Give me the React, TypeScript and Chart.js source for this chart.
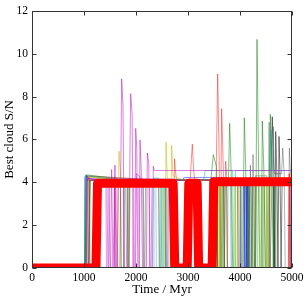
import React, { useEffect, useRef } from 'react';
import { Chart, registerables } from 'chart.js';
Chart.register(...registerables);

const xTickValues = [0, 1000, 2000, 3000, 4000, 5000];
const yTickValues = [0, 2, 4, 6, 8, 10, 12];
const xTitle = 'Time / Myr';
const yTitle = 'Best cloud S/N';

// thick "best" track
const bestT = [0, 1230, 1260, 2715, 2745, 2985, 3015, 3175, 3205, 3465, 3495, 5000];
const bestV = [0, 0, 3.95, 3.95, 0, 0, 3.95, 3.95, 0, 0, 4.03, 4.03];

// thin tracks
const magT = [0, 1040, 1060, 1100, 1480, 1500, 1560, 1596, 1615, 1690, 1724, 1750, 1775, 1860, 1897, 1925, 1950, 1975, 1994, 2015, 2035, 2060, 2077, 2100, 2125, 2200, 2218, 2245, 2270, 2315, 2333, 2350, 5000];
const magV = [0, 0, 4.3, 4.1, 4.1, 0, 0, 4.8, 0, 0, 8.83, 7.6, 0, 0, 8.14, 7.2, 0, 0, 6.52, 5.6, 0, 0, 5.98, 4.6, 0, 0, 5.37, 4.9, 0, 0, 4.75, 4.55, 4.55];

const mag2T = [0, 1050, 1075, 1300, 1440, 1460, 1510, 1532, 1555, 1640, 1660, 1800, 1820, 1990, 2010, 2140, 2160, 2290, 2310, 5000];
const mag2V = [0, 0, 4.2, 4.1, 4.1, 0, 0, 4.6, 0, 0, 4.1, 4.1, 0, 0, 4.4, 4.1, 0, 0, 4.1, 4.1];

const mag3T = [0, 1045, 1065, 1420, 1432, 1470, 1482, 1580, 1592, 1620, 1632, 1760, 1772, 1940, 1952, 2050, 2062, 2250, 2262, 2290, 2302, 5000];
const mag3V = [0, 0, 4.2, 4.1, 0, 0, 4.1, 4.1, 0, 0, 4.1, 4.1, 0, 0, 4.1, 4.1, 0, 0, 4.1, 4.1, 4.1, 4.1];

const yelT = [0, 1060, 1085, 1600, 1640, 1673, 1700, 1720, 1850, 1870, 2540, 2560, 2577, 2600, 2620, 2660, 2686, 2710, 2900, 3900, 3915, 3960, 3975, 4380, 4395, 4440, 4455, 5000];
const yelV = [0, 0, 4.25, 4.1, 0, 5.45, 4.5, 0, 0, 4.1, 4.1, 0, 5.87, 4.4, 0, 0, 5.72, 4.3, 4.1, 4.1, 0, 0, 4.1, 4.1, 0, 0, 4.2, 4.2];

const yel2T = [0, 1070, 1090, 3600, 3612, 3640, 3652, 3900, 3912, 3940, 3952, 4200, 4212, 4260, 4272, 4500, 4512, 4540, 4552, 5000];
const yel2V = [0, 0, 4.1, 4.1, 0, 0, 4.1, 4.1, 0, 0, 4.1, 4.1, 0, 0, 4.1, 4.1, 0, 0, 4.1, 4.1];

const grnT = [0, 1020, 1045, 1700, 1715, 1760, 1775, 3440, 3487, 3550, 3570, 3640, 3660, 3780, 3801, 3830, 3860, 4050, 4083, 4110, 4140, 4300, 4327, 4355, 4380, 4410, 4429, 4460, 4490, 4560, 4583, 4610, 4640, 4660, 5000];
const grnV = [0, 0, 4.3, 4.1, 0, 0, 4.1, 4.1, 5.29, 4.7, 0, 0, 4.2, 4.2, 6.75, 4.5, 0, 0, 7.01, 4.6, 0, 0, 10.67, 5.2, 0, 0, 6.86, 4.5, 0, 0, 7.17, 4.5, 0, 4.1, 4.1];

const grn2T = [0, 1030, 1055, 1830, 1845, 1870, 1885, 2130, 2145, 2170, 2185, 2480, 2495, 2520, 2535, 3620, 3635, 3660, 3675, 4230, 4245, 4270, 4285, 5000];
const grn2V = [0, 0, 4.35, 4.1, 0, 0, 4.1, 4.1, 0, 0, 4.1, 4.1, 0, 0, 4.1, 4.1, 0, 0, 4.1, 4.1, 0, 0, 4.1, 4.1];

const grn3T = [0, 1025, 1045, 3560, 3572, 3700, 3712, 3740, 3752, 4000, 4012, 4160, 4172, 4340, 4352, 4470, 4482, 4680, 4692, 5000];
const grn3V = [0, 0, 4.1, 4.1, 0, 0, 4.1, 4.1, 0, 0, 4.1, 4.1, 0, 0, 4.1, 4.1, 0, 0, 4.1, 4.1];

const redT = [0, 1080, 1100, 2440, 2455, 2720, 2740, 2760, 2780, 3040, 3083, 3110, 3130, 3540, 3571, 3600, 3620, 3630, 3647, 3680, 3700, 3724, 3745, 3760, 4930, 4945, 4960, 5000];
const redV = [0, 0, 4.3, 4.1, 0, 0, 5.1, 4.5, 4.1, 4.1, 5.78, 4.5, 4.1, 4.1, 9.06, 5.0, 0, 0, 7.44, 4.5, 0, 4.98, 4.3, 0, 0, 4.4, 0, 0];

const cyaT = [0, 1005, 1030, 1100, 1120, 2330, 2345, 2430, 2445, 2470, 2485, 3300, 3330, 3860, 3875, 3900, 3915, 4570, 4596, 4620, 4640, 5000];
const cyaV = [0, 0, 4.3, 4.2, 0, 0, 4.2, 4.2, 0, 0, 4.1, 4.1, 4.55, 4.55, 0, 0, 4.55, 4.55, 6.45, 4.6, 4.55, 4.55];

const cya2T = [0, 1008, 1025, 2380, 2392, 2500, 2512, 3680, 3692, 3760, 3772, 4440, 4452, 4500, 4512, 5000];
const cya2V = [0, 0, 4.3, 4.1, 0, 0, 4.1, 4.1, 0, 0, 4.1, 4.1, 0, 0, 4.1, 4.1];

const bluT = [0, 1000, 1015, 1040, 1060, 2560, 2575, 2610, 2625, 2900, 2920, 3700, 3720, 4080, 4095, 4120, 4135, 4180, 4195, 4220, 4235, 4960, 4975, 4990, 5000];
const bluV = [0, 0, 4.25, 4.35, 4.1, 4.1, 0, 0, 4.1, 4.1, 4.22, 4.22, 4.1, 4.1, 0, 0, 4.1, 4.1, 0, 0, 4.1, 4.1, 0, 0, 4.1];

const blu2T = [0, 1010, 1030, 3980, 3992, 4030, 4042, 4140, 4152, 5000];
const blu2V = [0, 0, 4.2, 4.1, 0, 0, 4.1, 4.1, 0, 0];

const blkT = [0, 1090, 1110, 3950, 3965, 4000, 4015, 4590, 4621, 4650, 4670, 4686, 4710, 4730, 4750, 4770, 4790, 4810, 5000];
const blkV = [0, 0, 4.1, 4.1, 0, 0, 4.1, 4.1, 7.06, 4.5, 0, 6.37, 4.3, 0, 6.14, 4.4, 0, 4.1, 4.1];

const blk2T = [0, 1095, 1115, 3820, 3832, 4060, 4072, 4120, 4132, 4300, 4312, 4420, 4432, 4560, 4572, 4640, 4652, 5000];
const blk2V = [0, 0, 4.1, 4.1, 0, 0, 4.1, 4.1, 0, 0, 4.1, 4.1, 0, 0, 4.1, 4.1, 0, 0];

const gryT = [0, 1100, 1120, 4150, 4170, 4200, 4230, 4250, 4280, 4300, 4520, 4540, 4560, 4580, 4640, 4660, 4800, 4821, 4850, 4870, 4930, 4949, 4970, 5000];
const gryV = [0, 0, 4.1, 4.1, 0, 4.8, 0, 5.3, 0, 4.3, 4.3, 0, 6.8, 0, 6.6, 4.4, 4.4, 5.6, 4.4, 0, 0, 5.6, 4.4, 4.4];

const thin: [number[], number[], string][] = [
  [magT, magV, 'rgba(191,0,191,0.5)'],
  [mag2T, mag2V, 'rgba(191,0,191,0.45)'],
  [mag3T, mag3V, 'rgba(191,0,191,0.4)'],
  [yelT, yelV, 'rgba(191,191,0,0.55)'],
  [yel2T, yel2V, 'rgba(191,191,0,0.5)'],
  [grnT, grnV, 'rgba(0,128,0,0.5)'],
  [grn2T, grn2V, 'rgba(0,128,0,0.45)'],
  [grn3T, grn3V, 'rgba(0,128,0,0.4)'],
  [redT, redV, 'rgba(255,0,0,0.45)'],
  [cyaT, cyaV, 'rgba(0,191,191,0.55)'],
  [cya2T, cya2V, 'rgba(0,191,191,0.45)'],
  [bluT, bluV, 'rgba(0,0,255,0.45)'],
  [blu2T, blu2V, 'rgba(0,0,255,0.3)'],
  [blkT, blkV, 'rgba(0,0,0,0.5)'],
  [blk2T, blk2V, 'rgba(0,0,0,0.35)'],
  [gryT, gryV, 'rgba(0,0,0,0.3)'],
];

const toXY = (t: number[], v: number[]) => t.map((x, i) => ({ x, y: v[i] }));

const FONT = "'Liberation Serif', 'DejaVu Serif', serif";

const framePlugin = {
  id: 'frame',
  afterDatasetsDraw(chart: any) {
    const { ctx, chartArea, scales } = chart;
    const l = Math.round(chartArea.left) + 0.5;
    const r = Math.round(chartArea.right) - 0.5;
    const t = Math.round(chartArea.top) + 0.5;
    const b = Math.round(chartArea.bottom) - 0.5;
    ctx.save();
    ctx.strokeStyle = '#333';
    ctx.lineWidth = 1;
    ctx.strokeRect(l, t, r - l, b - t);
    ctx.beginPath();
    for (const v of xTickValues) {
      const px = Math.round(scales.x.getPixelForValue(v)) + 0.5;
      ctx.moveTo(px, b); ctx.lineTo(px, b - 4);
      ctx.moveTo(px, t); ctx.lineTo(px, t + 4);
    }
    for (const v of yTickValues) {
      const py = Math.round(scales.y.getPixelForValue(v)) + 0.5;
      ctx.moveTo(l, py); ctx.lineTo(l + 4, py);
      ctx.moveTo(r, py); ctx.lineTo(r - 4, py);
    }
    ctx.stroke();
    ctx.restore();
  },
};

export default function App() {
  const ref = useRef<HTMLCanvasElement>(null);
  useEffect(() => {
    const datasets: any[] = [
      {
        data: toXY(bestT, bestV),
        borderColor: '#ff0000',
        borderWidth: 9,
        borderJoinStyle: 'round',
        borderCapStyle: 'butt',
        order: 0,
        clip: 0,
      },
      ...thin.map(([t, v, c], i) => ({
        data: toXY(t, v),
        borderColor: c,
        borderWidth: 1,
        order: i + 1,
        clip: 0,
      })),
    ];
    const chart = new Chart(ref.current as HTMLCanvasElement, {
      type: 'line',
      data: { datasets },
      plugins: [framePlugin],
      options: {
        responsive: false,
        animation: false,
        layout: { padding: { left: 0, right: 16, top: 8, bottom: 0 } },
        plugins: { legend: { display: false }, tooltip: { enabled: false } },
        elements: { point: { radius: 0 }, line: { tension: 0, fill: false } },
        scales: {
          x: {
            type: 'linear',
            min: 0,
            max: 5000,
            grid: { display: false, drawTicks: false, tickLength: 0 },
            border: { display: false },
            afterBuildTicks: (s: any) => { s.ticks = xTickValues.map((value) => ({ value })); },
            afterFit: (s: any) => { s.height = 32; },
            ticks: { color: '#000', font: { family: FONT, size: 11.5 }, padding: 3, maxRotation: 0, autoSkip: false, callback: (v: any) => String(v) },
            title: { display: true, text: xTitle, color: '#000', font: { family: FONT, size: 13 }, padding: { top: 0, bottom: 3 } },
          },
          y: {
            type: 'linear',
            min: 0,
            max: 12,
            grid: { display: false, drawTicks: false, tickLength: 0 },
            border: { display: false },
            afterBuildTicks: (s: any) => { s.ticks = yTickValues.map((value) => ({ value })); },
            afterFit: (s: any) => { s.width = 32; },
            ticks: { color: '#000', font: { family: FONT, size: 11.5 }, padding: 4, autoSkip: false, callback: (v: any) => String(v) },
            title: { display: true, text: yTitle, color: '#000', font: { family: FONT, size: 13 }, padding: { top: 2, bottom: 0 } },
          },
        },
      } as any,
    });
    return () => chart.destroy();
  }, []);
  return (
    <div style={{ position: 'fixed', left: 0, top: 0, width: 308, height: 300, background: '#fff' }}>
      <canvas ref={ref} width={308} height={300} style={{ display: 'block' }} />
    </div>
  );
}
